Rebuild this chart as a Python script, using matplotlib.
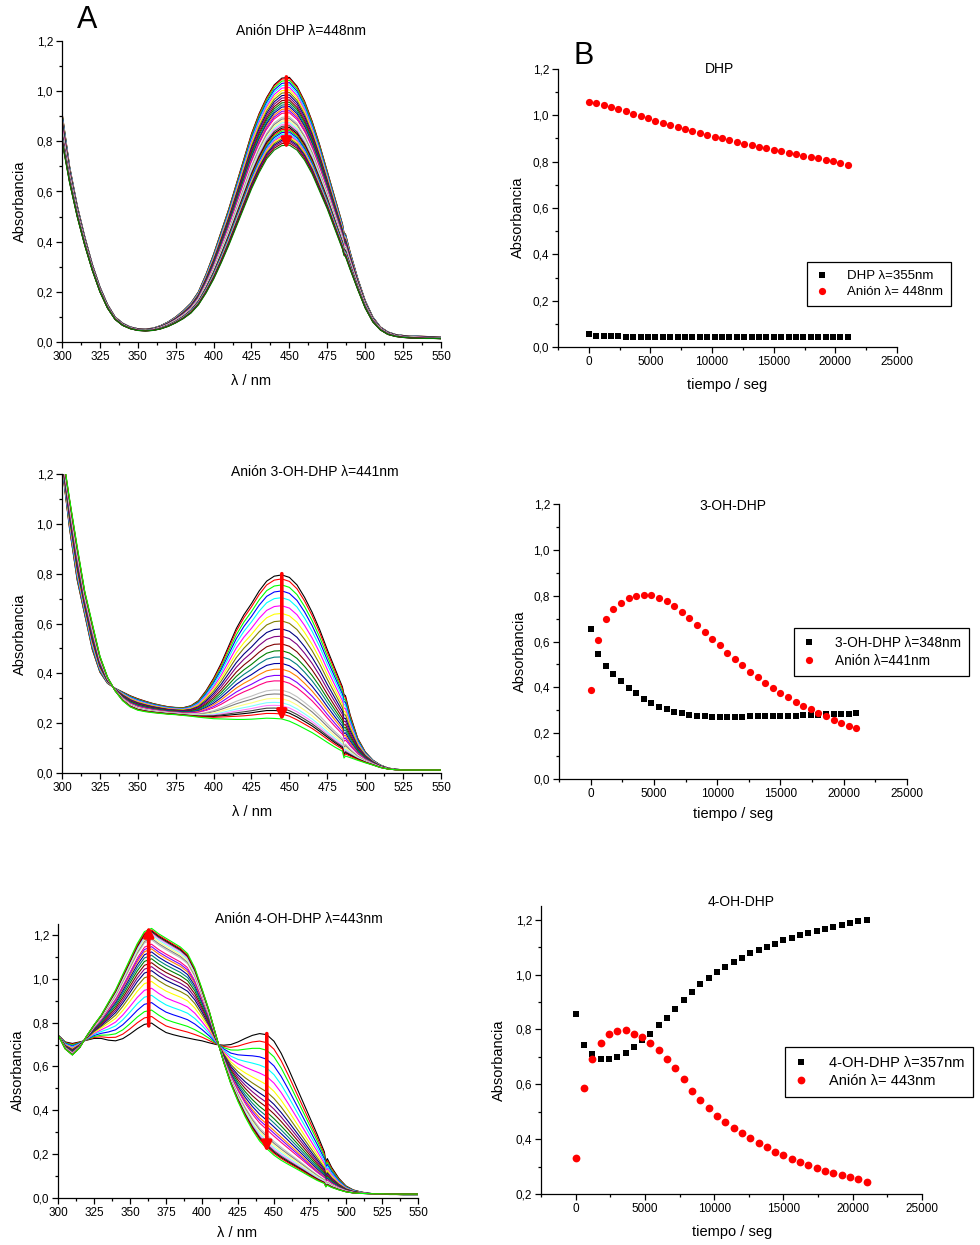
import matplotlib
matplotlib.use('Agg')
import matplotlib.pyplot as plt
import numpy as np
from matplotlib.ticker import MultipleLocator, FuncFormatter

plt.rcParams['font.family'] = ['Liberation Sans', 'DejaVu Sans']

# longitudes de onda de los espectros (nm)
wl = [300, 305, 310, 315, 320, 325, 330, 335, 340, 345,
      350, 355, 360, 365, 370, 375, 380, 385, 390, 395,
      400, 405, 410, 415, 420, 425, 430, 435, 440, 445,
      450, 455, 460, 465, 470, 475, 480, 485, 486, 487,
      490, 495, 500, 505, 510, 515, 520, 525, 530, 535, 540, 545, 550]

# espectros inicial y final de cada compuesto
dhp_ini = [0.915, 0.70, 0.545, 0.42, 0.31, 0.22, 0.15, 0.10, 0.075, 0.06,
           0.053, 0.052, 0.055, 0.065, 0.08, 0.10, 0.125, 0.155, 0.20, 0.27,
           0.35, 0.44, 0.53, 0.63, 0.73, 0.83, 0.91, 0.975, 1.025, 1.052,
           1.055, 1.02, 0.96, 0.88, 0.785, 0.68, 0.575, 0.47, 0.435, 0.43,
           0.36, 0.255, 0.165, 0.10, 0.06, 0.04, 0.03, 0.026, 0.024, 0.023, 0.022, 0.021, 0.02]
dhp_fin = [0.80, 0.635, 0.50, 0.385, 0.285, 0.20, 0.135, 0.09, 0.066, 0.053,
           0.046, 0.044, 0.046, 0.052, 0.062, 0.076, 0.093, 0.115, 0.148, 0.195,
           0.25, 0.315, 0.385, 0.46, 0.535, 0.61, 0.675, 0.73, 0.765, 0.783,
           0.785, 0.765, 0.725, 0.67, 0.60, 0.53, 0.45, 0.37, 0.345, 0.34,
           0.29, 0.21, 0.135, 0.08, 0.048, 0.03, 0.022, 0.018, 0.016, 0.015, 0.014, 0.014, 0.013]

oh3_ini = [1.23, 0.98, 0.775, 0.635, 0.495, 0.405, 0.36, 0.34, 0.325, 0.31,
           0.298, 0.288, 0.279, 0.272, 0.266, 0.263, 0.262, 0.27, 0.29, 0.33,
           0.38, 0.44, 0.51, 0.58, 0.635, 0.68, 0.73, 0.77, 0.79, 0.795,
           0.785, 0.755, 0.705, 0.645, 0.575, 0.495, 0.42, 0.345, 0.315, 0.31,
           0.235, 0.14, 0.085, 0.052, 0.032, 0.02, 0.015, 0.013, 0.012, 0.012, 0.011, 0.011, 0.011]
oh3_fin = [1.30, 1.10, 0.91, 0.73, 0.60, 0.47, 0.385, 0.33, 0.29, 0.265,
           0.252, 0.246, 0.242, 0.239, 0.236, 0.234, 0.231, 0.228, 0.224, 0.221,
           0.218, 0.217, 0.216, 0.215, 0.215, 0.216, 0.218, 0.22, 0.219, 0.217,
           0.208, 0.194, 0.178, 0.162, 0.143, 0.123, 0.104, 0.087, 0.06, 0.068,
           0.062, 0.051, 0.041, 0.032, 0.022, 0.016, 0.013, 0.012, 0.012, 0.012, 0.012, 0.012, 0.012]

oh4_ini = [0.745, 0.712, 0.705, 0.712, 0.72, 0.728, 0.728, 0.72, 0.717, 0.727,
           0.748, 0.772, 0.792, 0.798, 0.775, 0.755, 0.745, 0.737, 0.73, 0.723,
           0.717, 0.708, 0.70, 0.697, 0.70, 0.712, 0.728, 0.742, 0.75, 0.745,
           0.715, 0.66, 0.59, 0.515, 0.44, 0.365, 0.29, 0.21, 0.165, 0.18,
           0.14, 0.09, 0.055, 0.037, 0.028, 0.022, 0.019, 0.017, 0.016, 0.016, 0.015, 0.015, 0.015]
oh4_fin = [0.745, 0.68, 0.652, 0.685, 0.74, 0.79, 0.835, 0.893, 0.95, 1.02,
           1.09, 1.16, 1.215, 1.23, 1.205, 1.185, 1.165, 1.145, 1.115, 1.05,
           0.955, 0.855, 0.735, 0.62, 0.52, 0.44, 0.37, 0.31, 0.26, 0.225,
           0.195, 0.172, 0.153, 0.135, 0.117, 0.098, 0.08, 0.066, 0.05, 0.058,
           0.048, 0.037, 0.028, 0.023, 0.021, 0.02, 0.019, 0.019, 0.018, 0.018, 0.018, 0.018, 0.018]

# absorbancia de cada espectro en el maximo de referencia
pico_3oh = [0.795, 0.779, 0.755, 0.731, 0.704, 0.672, 0.641, 0.611, 0.579, 0.550,
            0.519, 0.492, 0.467, 0.441, 0.418, 0.393, 0.371, 0.353, 0.334, 0.318,
            0.300, 0.284, 0.272, 0.261, 0.251, 0.239, 0.219]
pico_4oh = [0.798, 0.828, 0.857, 0.891, 0.924, 0.956, 0.987, 1.014, 1.036, 1.054,
            1.072, 1.090, 1.106, 1.121, 1.135, 1.145, 1.156, 1.166, 1.176, 1.183,
            1.191, 1.199, 1.206, 1.212, 1.217, 1.221, 1.228]

# cineticas
tiempo = [0, 600, 1200, 1800, 2400, 3000, 3600, 4200, 4800, 5400,
          6000, 6600, 7200, 7800, 8400, 9000, 9600, 10200, 10800, 11400,
          12000, 12600, 13200, 13800, 14400, 15000, 15600, 16200, 16800, 17400,
          18000, 18600, 19200, 19800, 20400, 21000]
dhp_355 = [0.055, 0.049, 0.048, 0.047, 0.046, 0.045, 0.045, 0.044, 0.044, 0.044,
           0.043, 0.043, 0.043, 0.043, 0.043, 0.043, 0.043, 0.043, 0.043, 0.043,
           0.043, 0.043, 0.043, 0.043, 0.043, 0.043, 0.043, 0.043, 0.043, 0.043,
           0.043, 0.043, 0.043, 0.043, 0.043, 0.043]
dhp_448 = [1.057, 1.053, 1.045, 1.036, 1.027, 1.017, 1.007, 0.997, 0.987, 0.977,
           0.967, 0.958, 0.949, 0.941, 0.932, 0.924, 0.916, 0.908, 0.900, 0.893,
           0.885, 0.878, 0.871, 0.864, 0.857, 0.851, 0.845, 0.839, 0.832, 0.826,
           0.820, 0.814, 0.808, 0.802, 0.795, 0.787]
oh3_348 = [0.654, 0.545, 0.494, 0.459, 0.428, 0.399, 0.374, 0.351, 0.332, 0.316,
           0.304, 0.294, 0.287, 0.281, 0.277, 0.274, 0.272, 0.272, 0.272, 0.272,
           0.272, 0.273, 0.273, 0.274, 0.275, 0.276, 0.277, 0.277, 0.278, 0.280,
           0.281, 0.282, 0.283, 0.284, 0.285, 0.286]
oh3_441 = [0.390, 0.607, 0.698, 0.740, 0.767, 0.788, 0.800, 0.805, 0.801, 0.791,
           0.776, 0.754, 0.728, 0.702, 0.673, 0.642, 0.612, 0.583, 0.552, 0.523,
           0.497, 0.469, 0.444, 0.419, 0.396, 0.377, 0.357, 0.338, 0.319, 0.304,
           0.290, 0.275, 0.259, 0.246, 0.233, 0.221]
oh4_357 = [0.855, 0.743, 0.710, 0.692, 0.691, 0.701, 0.714, 0.736, 0.760, 0.785,
           0.816, 0.842, 0.874, 0.907, 0.937, 0.964, 0.989, 1.010, 1.028, 1.045,
           1.062, 1.078, 1.088, 1.101, 1.113, 1.125, 1.135, 1.145, 1.152, 1.159,
           1.167, 1.175, 1.181, 1.187, 1.194, 1.198]
oh4_443 = [0.331, 0.587, 0.691, 0.749, 0.782, 0.796, 0.798, 0.785, 0.771, 0.749,
           0.725, 0.693, 0.659, 0.621, 0.576, 0.541, 0.512, 0.485, 0.463, 0.441,
           0.422, 0.404, 0.385, 0.370, 0.354, 0.343, 0.328, 0.318, 0.304, 0.293,
           0.285, 0.276, 0.268, 0.261, 0.253, 0.244]

# colores por defecto de Origin
colores = ['#000000', '#FF0000', '#00FF00', '#0000FF', '#00FFFF', '#FF00FF',
           '#FFFF00', '#808000', '#000080', '#800080', '#800000', '#008000',
           '#008080', '#0000A0', '#FF8000', '#8000FF', '#FF0080', '#FFFFFF',
           '#C0C0C0', '#808080', '#FFFF80', '#80FFFF', '#FF80FF', '#404040']

W, H = 980, 1245
fig = plt.figure(figsize=(W / 100, H / 100), dpi=100)


def ejes(izq, der, arriba, abajo):
    return fig.add_axes([izq / W, 1 - abajo / H, (der - izq) / W, (abajo - arriba) / H])


def texto(x, y, s, **kw):
    fig.text(x / W, 1 - y / H, s, ha='center', va='center', **kw)


coma = FuncFormatter(lambda v, p: ('%.1f' % v).replace('.', ','))


def estilo(ax, xmaj, xmin, y0, y1, x0, x1):
    ax.set_xlim(x0, x1)
    ax.set_ylim(y0, y1)
    ax.spines['top'].set_visible(False)
    ax.spines['right'].set_visible(False)
    for s in ('left', 'bottom'):
        ax.spines[s].set_linewidth(0.9)
    ax.xaxis.set_major_locator(MultipleLocator(xmaj))
    ax.xaxis.set_minor_locator(MultipleLocator(xmin))
    ax.yaxis.set_major_locator(MultipleLocator(0.2))
    ax.yaxis.set_minor_locator(MultipleLocator(0.1))
    ax.yaxis.set_major_formatter(coma)
    ax.tick_params(which='major', direction='out', length=4, width=0.9, labelsize=8.5, pad=2.5)
    ax.tick_params(which='minor', direction='out', length=2.5, width=0.9)


def espectros(ax, ini, fin, picos):
    # cada espectro intermedio como mezcla del inicial y el final
    ini = np.array(ini)
    fin = np.array(fin)
    for k, p in enumerate(picos):
        f = (picos[0] - p) / (picos[0] - picos[-1])
        ax.plot(wl, ini + f * (fin - ini), color=colores[k % len(colores)], lw=0.8)


def flecha(ax, x, y0, y1):
    ax.annotate('', xy=(x, y1), xytext=(x, y0),
                arrowprops=dict(arrowstyle='-|>', color='red', lw=2.6,
                                mutation_scale=14, shrinkA=0, shrinkB=0))


def cinetica(ax, negro, rojo, etiquetas, pos, fs, ms):
    ax.plot(tiempo, negro, 's', color='black', ms=ms, mew=0, label=etiquetas[0])
    ax.plot(tiempo, rojo, 'o', color='red', ms=ms + 0.6, mew=0, label=etiquetas[1])
    leg = ax.legend(loc='upper left', bbox_to_anchor=(pos[0] / W, 1 - pos[1] / H),
                    bbox_transform=fig.transFigure, borderaxespad=0, fancybox=False,
                    framealpha=1, edgecolor='black', fontsize=fs, handlelength=1.0,
                    handletextpad=1.4, borderpad=0.6, labelspacing=0.3)
    leg.get_frame().set_linewidth(0.9)


# A: espectros DHP
ax1 = ejes(62, 441, 41, 342)
estilo(ax1, 25, 12.5, 0, 1.2, 300, 550)
espectros(ax1, dhp_ini, dhp_fin, dhp_448)
flecha(ax1, 448, 1.057, 0.77)

# B: cinetica DHP
ax2 = ejes(558, 897, 69, 347)
estilo(ax2, 5000, 2500, 0, 1.2, -2500, 25000)
cinetica(ax2, dhp_355, dhp_448, ['DHP λ=355nm', 'Anión λ= 448nm'], (807, 262), 9.5, 4.6)

# espectros 3-OH-DHP
ax3 = ejes(62, 441, 474, 773)
estilo(ax3, 25, 12.5, 0, 1.2, 300, 550)
espectros(ax3, oh3_ini, oh3_fin, pico_3oh)
flecha(ax3, 445, 0.80, 0.21)

# cinetica 3-OH-DHP
ax4 = ejes(559, 907, 504, 779)
estilo(ax4, 5000, 2500, 0, 1.2, -2500, 25000)
cinetica(ax4, oh3_348, oh3_441, ['3-OH-DHP λ=348nm', 'Anión λ=441nm'], (794, 628), 9.8, 4.6)

# espectros 4-OH-DHP
ax5 = ejes(58, 418, 924, 1198)
estilo(ax5, 25, 12.5, 0, 1.25, 300, 550)
espectros(ax5, oh4_ini, oh4_fin, pico_4oh)
flecha(ax5, 363, 0.785, 1.24)
flecha(ax5, 445, 0.75, 0.21)

# cinetica 4-OH-DHP
ax6 = ejes(541, 922, 906, 1194)
estilo(ax6, 5000, 2500, 0.2, 1.25, -2500, 25000)
cinetica(ax6, oh4_357, oh4_443, ['4-OH-DHP λ=357nm', 'Anión λ= 443nm'], (785, 1047), 10.5, 5.0)

# titulos y rotulos
texto(87, 20, 'A', fontsize=22)
texto(584, 56, 'B', fontsize=22)
texto(301, 31, 'Anión DHP λ=448nm', fontsize=10)
texto(719, 69, 'DHP', fontsize=10)
texto(315, 472, 'Anión 3-OH-DHP λ=441nm', fontsize=10)
texto(733, 506, '3-OH-DHP', fontsize=10)
texto(299, 919, 'Anión 4-OH-DHP λ=443nm', fontsize=10)
texto(741, 902, '4-OH-DHP', fontsize=10)

for x, y in [(251, 381), (252, 812), (237, 1233)]:
    texto(x, y, 'λ / nm', fontsize=10.5)
for x, y in [(727, 385), (733, 814), (732, 1232)]:
    texto(x, y, 'tiempo / seg', fontsize=10.5)
for x, y in [(20, 201), (518, 217), (20, 634), (520, 651), (18, 1070), (499, 1060)]:
    texto(x, y, 'Absorbancia', fontsize=10.5, rotation=90)

fig.savefig('out.png', dpi=100)
